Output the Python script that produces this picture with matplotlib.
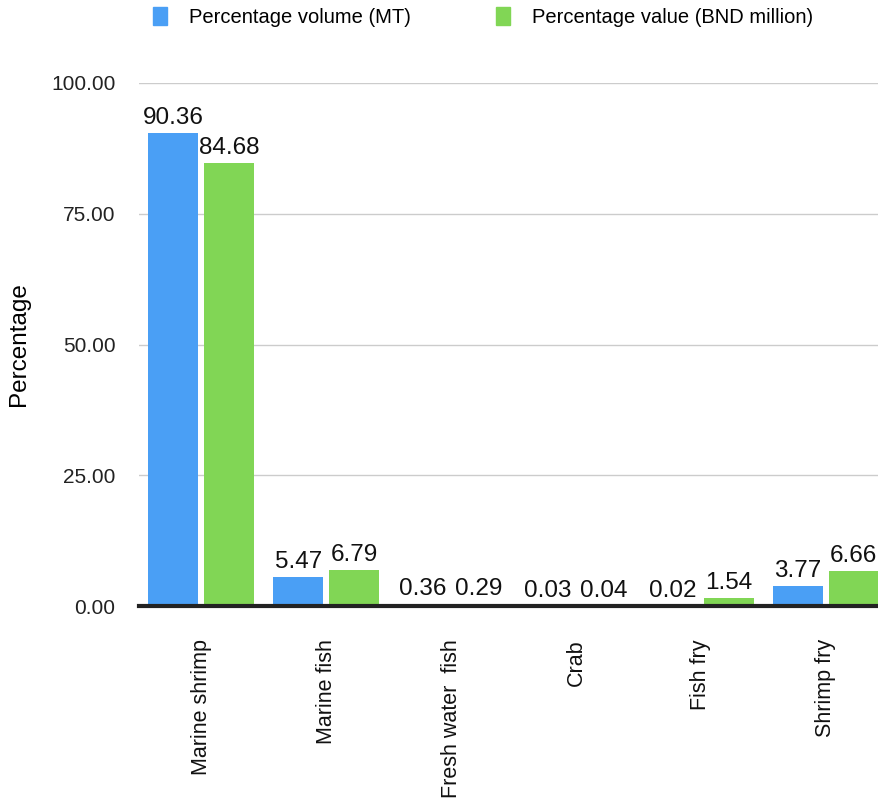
import matplotlib.pyplot as plt
import numpy as np
from matplotlib.patches import Patch

plt.rcParams['font.family'] = ['Liberation Sans', 'DejaVu Sans']

# Share of aquaculture production by product
categories = ["Marine shrimp", "Marine fish", "Fresh water  fish", "Crab", "Fish fry", "Shrimp fry"]
volume_pct = [90.36, 5.47, 0.36, 0.03, 0.02, 3.77]
value_pct = [84.68, 6.79, 0.29, 0.04, 1.54, 6.66]
series_names = ["Percentage volume (MT)", "Percentage value (BND million)"]
yticks = [0, 25, 50, 75, 100]

blue = "#4A9FF5"
green = "#81D655"

fig = plt.figure(figsize=(8.79, 8.07), dpi=100)
ax = fig.add_axes([139 / 879, (807 - 606) / 807, 749 / 879, 523 / 807])

x = np.arange(len(categories))
w = 0.40
off = 0.224
b1 = ax.bar(x - off, volume_pct, w, color=blue, zorder=3)
b2 = ax.bar(x + off, value_pct, w, color=green, zorder=3)

for bars, vals in ((b1, volume_pct), (b2, value_pct)):
    for b, v in zip(bars, vals):
        ax.annotate(f"{v:.2f}", (b.get_x() + b.get_width() / 2, v),
                    xytext=(0, 3), textcoords="offset points",
                    ha="center", va="bottom", fontsize=17.5, color="#111111")

ax.set_xlim(-0.5, len(categories) - 0.5)
ax.set_ylim(0, 100)
ax.set_yticks(yticks)
ax.set_yticklabels([f"{t:.2f}" for t in yticks])
ax.tick_params(axis="y", length=0, pad=17, labelsize=15, labelcolor="#222222")
ax.set_xticks(x)
ax.set_xticklabels(categories, rotation=90, va="top", ha="center")
ax.tick_params(axis="x", length=0, pad=24, labelsize=15.5, labelcolor="#111111")

ax.grid(axis="y", color="#cccccc", linewidth=1, zorder=0)
for s in ("top", "right", "left"):
    ax.spines[s].set_visible(False)
ax.spines["bottom"].set_linewidth(3)
ax.spines["bottom"].set_color("#222222")
ax.spines["bottom"].set_zorder(4)

ax.set_ylabel("Percentage", fontsize=17.5)
ax.yaxis.set_label_coords(-0.145, 0.5)

handles = [Patch(color=blue), Patch(color=green)]
fig.legend(handles, series_names, loc="center", bbox_to_anchor=(483 / 879, 1 - 17 / 807),
           ncol=2, frameon=False, fontsize=14.5, handlelength=0.7, handleheight=1.0,
           handletextpad=1.1, columnspacing=4.2)

fig.savefig("out.png", dpi=100)
